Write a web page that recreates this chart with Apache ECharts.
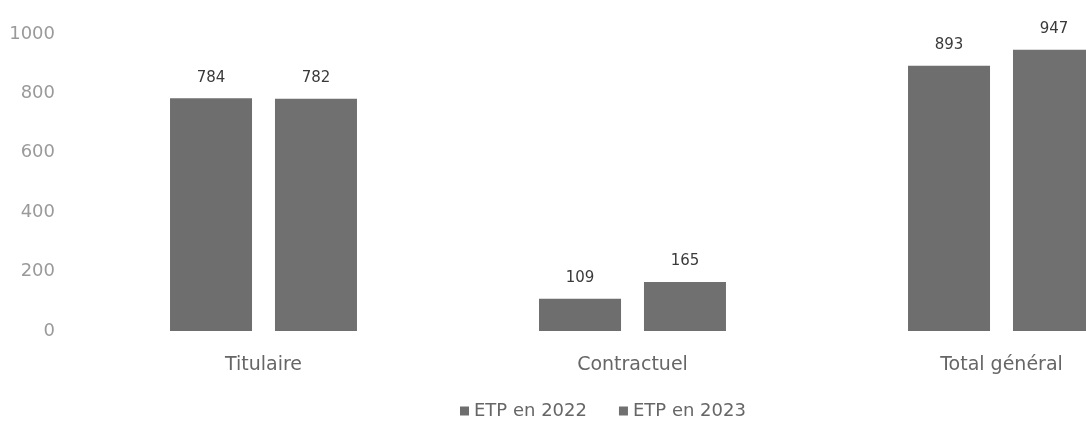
<!DOCTYPE html>
<html><head><meta charset="utf-8">
<script src="https://cdn.jsdelivr.net/npm/echarts@6/dist/echarts.min.js"></script>
<style>html,body{margin:0;padding:0;background:#fff}#c{width:1086px;height:426px}</style>
</head><body><div id="c"></div>
<script>
const categories = ['Titulaire', 'Contractuel', 'Total général'];
const seriesNames = ['ETP en 2022', 'ETP en 2023'];
const etp2022 = [784, 109, 893];
const etp2023 = [782, 165, 947];
const yTicks = [0, 200, 400, 600, 800, 1000];

const chart = echarts.init(document.getElementById('c'));
const font = '"DejaVu Sans", sans-serif';
chart.setOption({
  animation: false,
  textStyle: { fontFamily: font },
  grid: { left: 79, top: 34, width: 1107, height: 297, containLabel: false, outerBoundsMode: 'none' },
  legend: {
    data: seriesNames, bottom: 1, left: 455,
    icon: 'rect', itemWidth: 9, itemHeight: 9, itemGap: 32,
    textStyle: { color: '#666666', fontSize: 18, fontFamily: font }
  },
  xAxis: {
    type: 'category', data: categories,
    axisLine: { show: false }, axisTick: { show: false },
    axisLabel: { color: '#666666', fontSize: 19, margin: 25, fontFamily: font }
  },
  yAxis: {
    type: 'value', min: yTicks[0], max: yTicks[yTicks.length - 1], interval: 200,
    axisLine: { show: false }, axisTick: { show: false },
    splitLine: { show: false },
    axisLabel: { color: '#9a9a9a', fontSize: 18, margin: 24, fontFamily: font, formatter: v => String(v) }
  },
  series: [
    { name: seriesNames[0], type: 'bar', data: etp2022, barWidth: 82, barGap: '28%',
      itemStyle: { color: '#6e6e6e' },
      label: { show: true, position: 'top', distance: 13, color: '#3a3a3a', fontSize: 15, fontFamily: font } },
    { name: seriesNames[1], type: 'bar', data: etp2023, barWidth: 82, barGap: '28%',
      itemStyle: { color: '#707070' },
      label: { show: true, position: 'top', distance: 13, color: '#3a3a3a', fontSize: 15, fontFamily: font } }
  ]
});
</script></body></html>
